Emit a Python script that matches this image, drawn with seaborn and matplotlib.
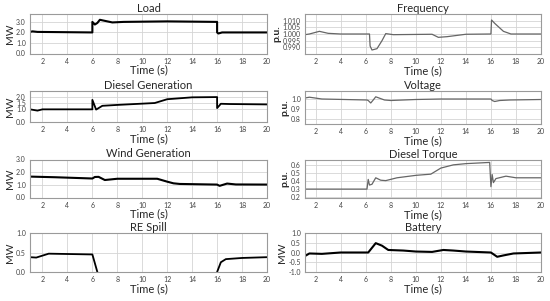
import numpy as np
import seaborn as sns
import matplotlib.pyplot as plt

# ---- data (time in s) ----
load_t = [1.0, 1.2, 1.6, 6.0, 6.0, 6.2, 6.4, 6.6, 7.0, 7.6, 8.5, 12.0, 16.0, 16.0, 16.1, 16.4, 20.0]
load_v = [2.05, 2.1, 2.05, 2.0, 3.0, 2.75, 2.9, 3.2, 3.1, 2.95, 3.0, 3.05, 3.0, 2.0, 1.9, 2.0, 2.0]

diesel_t = [1.0, 1.3, 1.6, 2.0, 6.0, 6.0, 6.3, 6.8, 8.0, 11.0, 12.0, 14.0, 16.0, 16.0, 16.3, 17.0, 20.0]
diesel_v = [1.0, 0.95, 0.9, 1.0, 1.0, 1.75, 0.98, 1.28, 1.35, 1.5, 1.8, 1.95, 1.97, 1.1, 1.44, 1.42, 1.39]

wind_t = [1.0, 3.0, 6.0, 6.2, 6.5, 7.0, 8.0, 11.2, 12.0, 12.5, 13.0, 16.0, 16.2, 16.8, 17.5, 20.0]
wind_v = [1.65, 1.6, 1.5, 1.62, 1.63, 1.38, 1.48, 1.48, 1.25, 1.12, 1.07, 1.02, 0.92, 1.1, 1.03, 1.02]

spill_t1 = [1.0, 1.5, 2.5, 6.0, 6.4]
spill_v1 = [0.38, 0.37, 0.47, 0.45, 0.0]
spill_t2 = [16.0, 16.3, 16.7, 18.0, 20.0]
spill_v2 = [0.0, 0.25, 0.33, 0.36, 0.38]

freq_t = [1.15, 1.5, 2.3, 3.0, 4.0, 6.3, 6.35, 6.5, 6.9, 7.3, 7.6, 8.2, 11.3, 11.8, 12.5, 14.0, 16.0, 16.05, 16.3, 17.0, 17.6, 20.0]
freq_v = [0.9995, 1.0, 1.002, 1.0005, 1.0, 1.0, 0.991, 0.988, 0.989, 0.995, 1.0003, 0.9995, 0.9998, 0.9975, 0.998, 0.9998, 1.0, 1.0105, 1.008, 1.002, 1.0, 1.0]

volt_t = [1.15, 1.5, 2.5, 6.1, 6.2, 6.4, 6.6, 6.8, 7.5, 8.0, 10.0, 12.0, 16.0, 16.1, 16.3, 16.7, 17.5, 20.0]
volt_v = [1.01, 1.018, 1.0, 0.99, 0.985, 0.96, 0.99, 1.022, 0.99, 0.985, 0.995, 1.0, 1.0, 0.985, 0.975, 0.985, 0.99, 0.995]

torque_t = [1.15, 6.1, 6.2, 6.3, 6.5, 6.8, 7.2, 7.6, 8.5, 10.0, 11.2, 12.0, 13.0, 14.0, 15.9, 16.0, 16.1, 16.2, 16.4, 17.2, 18.0, 20.0]
torque_v = [0.3, 0.3, 0.42, 0.35, 0.36, 0.44, 0.41, 0.405, 0.44, 0.47, 0.485, 0.56, 0.6, 0.615, 0.63, 0.33, 0.48, 0.38, 0.43, 0.46, 0.44, 0.44]

batt_t = [1.15, 1.5, 2.5, 4.0, 6.2, 6.8, 7.3, 7.8, 9.0, 10.0, 11.3, 12.2, 13.0, 14.0, 16.0, 16.5, 17.0, 17.8, 20.0]
batt_v = [-0.18, -0.05, -0.07, 0.0, 0.0, 0.48, 0.35, 0.13, 0.1, 0.05, 0.03, 0.13, 0.1, 0.05, 0.0, -0.22, -0.15, -0.05, 0.0]

x_ticks = [2, 4, 6, 8, 10, 12, 14, 16, 18, 20]

sns.set_style("whitegrid", {"grid.color": "#d4d4d4", "axes.edgecolor": "#9a9a9a"})
plt.rcParams['font.family'] = ['Lato', 'DejaVu Sans']

fig = plt.figure(figsize=(5.5, 3.01), dpi=100)

def make_ax(rect, title, ylabel, xlim, ylim, yticks, yfmt):
    ax = fig.add_axes(rect)
    ax.set_xlim(*xlim)
    ax.set_ylim(*ylim)
    ax.set_xticks(x_ticks)
    ax.set_yticks(yticks)
    ax.set_yticklabels([yfmt.format(v) for v in yticks])
    ax.set_title(title, fontsize=8, pad=1.5)
    ax.set_xlabel("Time (s)", fontsize=8, labelpad=0)
    ax.set_ylabel(ylabel, fontsize=7.5, labelpad=1, fontweight="bold" if ylabel == "p.u." else "normal")
    ax.tick_params(labelsize=5, colors="#444444", length=0, pad=3)
    for s in ax.spines.values():
        s.set_linewidth(0.8)
    ax.grid(True, linewidth=0.6)
    return ax

def trace(ax, t, v, color, lw):
    # keep the order of the points, no aggregation of repeated times
    sns.lineplot(x=t, y=v, ax=ax, color=color, linewidth=lw, sort=False, estimator=None)

L0, LW = 30 / 550, 237 / 550
R0, RW = 305 / 550, 236 / 550

def rect(x0, w, top, bot):
    return [x0, 1 - bot / 301, w, (bot - top) / 301]

ax = make_ax(rect(L0, LW, 14, 53.5), "Load", "MW", (1, 20), (0, 3.75), [0, 1, 2, 3], "{:.1f}")
trace(ax, load_t, load_v, "black", 1.5)

ax = make_ax(rect(L0, LW, 91, 122), "Diesel Generation", "MW", (1, 20), (0, 2.45), [0, 1.0, 1.5, 2.0], "{:.1f}")
trace(ax, diesel_t, diesel_v, "black", 1.3)

ax = make_ax(rect(L0, LW, 159.5, 197.5), "Wind Generation", "MW", (1, 20), (0, 3.0), [0, 1, 2, 3], "{:.1f}")
trace(ax, wind_t, wind_v, "black", 1.5)

ax = make_ax(rect(L0, LW, 233, 272), "RE Spill", "MW", (1, 20), (0, 1.0), [0, 0.5, 1.0], "{:.1f}")
trace(ax, spill_t1, spill_v1, "black", 1.3)
trace(ax, spill_t2, spill_v2, "black", 1.3)

ax = make_ax(rect(R0, RW, 14, 54), "Frequency", "p.u.", (1.15, 20), (0.985, 1.015),
             [0.990, 0.995, 1.000, 1.005, 1.010], "{:.3f}")
trace(ax, freq_t, freq_v, "#666666", 0.9)

ax = make_ax(rect(R0, RW, 91, 124), "Voltage", "p.u.", (1.15, 20), (0.75, 1.08), [0.8, 0.9, 1.0], "{:.1f}")
trace(ax, volt_t, volt_v, "#666666", 0.9)

ax = make_ax(rect(R0, RW, 160, 198), "Diesel Torque", "p.u.", (1.15, 20), (0.19, 0.66),
             [0.2, 0.3, 0.4, 0.5, 0.6], "{:.1f}")
trace(ax, torque_t, torque_v, "#666666", 0.9)

ax = make_ax(rect(R0, RW, 233, 272), "Battery", "MW", (1.15, 20), (-1.0, 1.0),
             [-1.0, -0.5, 0.0, 0.5, 1.0], "{:.1f}")
trace(ax, batt_t, batt_v, "black", 1.5)

fig.savefig("out.png", dpi=100)
